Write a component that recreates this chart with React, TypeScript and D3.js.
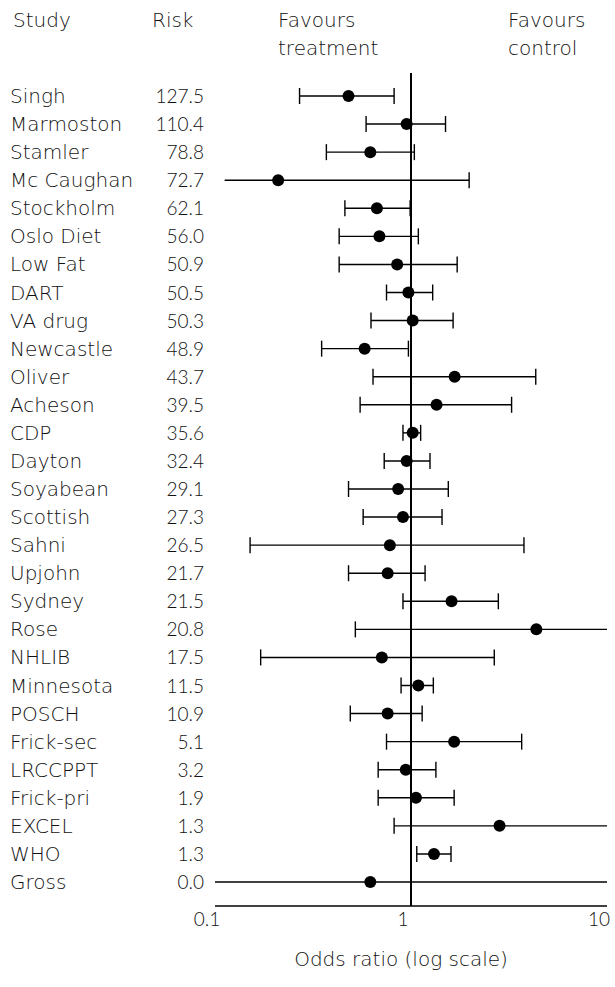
import * as d3 from 'd3'

const studies = [
  'Singh', 'Marmoston', 'Stamler', 'Mc Caughan', 'Stockholm', 'Oslo Diet', 'Low Fat',
  'DART', 'VA drug', 'Newcastle', 'Oliver', 'Acheson', 'CDP', 'Dayton', 'Soyabean',
  'Scottish', 'Sahni', 'Upjohn', 'Sydney', 'Rose', 'NHLIB', 'Minnesota', 'POSCH',
  'Frick-sec', 'LRCCPPT', 'Frick-pri', 'EXCEL', 'WHO', 'Gross',
]
const risk = [
  '127.5', '110.4', '78.8', '72.7', '62.1', '56.0', '50.9', '50.5', '50.3', '48.9',
  '43.7', '39.5', '35.6', '32.4', '29.1', '27.3', '26.5', '21.7', '21.5', '20.8',
  '17.5', '11.5', '10.9', '5.1', '3.2', '1.9', '1.3', '1.3', '0.0',
]
const oddsRatio = [
  0.48, 0.95, 0.62, 0.21, 0.67, 0.69, 0.85, 0.97, 1.02, 0.58, 1.67, 1.35, 1.02, 0.95,
  0.86, 0.91, 0.78, 0.76, 1.61, 4.36, 0.71, 1.09, 0.76, 1.66, 0.94, 1.06, 2.83, 1.31, 0.62,
]
const lower = [
  0.27, 0.59, 0.37, 0.112, 0.46, 0.43, 0.43, 0.75, 0.625, 0.35, 0.64, 0.55, 0.91, 0.73,
  0.48, 0.57, 0.151, 0.48, 0.91, 0.52, 0.171, 0.89, 0.49, 0.75, 0.68, 0.68, 0.82, 1.07, 0.05,
]
const upper = [
  0.82, 1.5, 1.04, 1.98, 0.99, 1.09, 1.72, 1.29, 1.64, 0.97, 4.33, 3.26, 1.12, 1.25,
  1.55, 1.44, 3.77, 1.18, 2.79, 12, 2.66, 1.3, 1.14, 3.67, 1.34, 1.66, 12, 1.6, 20,
]
// lower ends drawn without a cap
const openLower = ['Mc Caughan']
const xTicks = [0.1, 1, 10]

const W = 615
const H = 987
const LABEL_FONT = '"DejaVu Sans", sans-serif'
const NUM_FONT = 'Lato, sans-serif'

export default function App() {
  const x = d3.scaleLog().domain([0.1, 10]).range([215, 607])
  const y = d3.scalePoint<string>().domain(studies).range([96, 882])
  const cap = 8
  const inDomain = (v: number) => v >= 0.1 && v <= 10
  const clamp = (v: number) => x(Math.max(0.1, Math.min(10, v)))

  const label = { fontFamily: LABEL_FONT, fontWeight: 200, fontSize: 20, fill: '#111' }
  const num = { fontFamily: NUM_FONT, fontWeight: 300, fontSize: 19, fill: '#111' }

  return (
    <div style={{ position: 'absolute', left: 0, top: 0 }}>
      <svg width={W} height={H} style={{ display: 'block', background: '#fff' }}>
        <g {...label}>
          <text x={13} y={27}>Study</text>
          <text x={152} y={27}>Risk</text>
          <text x={278} y={27}>Favours</text>
          <text x={278} y={55}>treatment</text>
          <text x={508} y={27}>Favours</text>
          <text x={508} y={55}>control</text>
        </g>

        {/* reference line at OR = 1 */}
        <line x1={x(1)} x2={x(1)} y1={73} y2={906} stroke="#000" strokeWidth={2} />

        {studies.map((s, i) => {
          const yy = y(s) as number
          const lo = lower[i]
          const hi = upper[i]
          return (
            <g key={s}>
              <text x={10} y={yy + 7} {...label}>{s}</text>
              <text x={204} y={yy + 7} textAnchor="end" {...num}>{risk[i]}</text>
              <line x1={clamp(lo)} x2={clamp(hi)} y1={yy} y2={yy} stroke="#000" strokeWidth={1.4} />
              {inDomain(lo) && !openLower.includes(s) && (
                <line x1={x(lo)} x2={x(lo)} y1={yy - cap} y2={yy + cap} stroke="#000" strokeWidth={1.4} />
              )}
              {inDomain(hi) && (
                <line x1={x(hi)} x2={x(hi)} y1={yy - cap} y2={yy + cap} stroke="#000" strokeWidth={1.4} />
              )}
              <circle cx={x(oddsRatio[i])} cy={yy} r={6} fill="#000" />
            </g>
          )
        })}

        {/* x axis */}
        <line x1={x(0.1)} x2={x(10)} y1={906} y2={906} stroke="#000" strokeWidth={1.5} />
        {xTicks.map((t) => (
          <text key={t} x={x(t) - 8} y={926} textAnchor="middle" {...num}>
            {String(t)}
          </text>
        ))}
        <text x={401} y={966} textAnchor="middle" {...label}>
          Odds ratio (log scale)
        </text>
      </svg>
    </div>
  )
}
